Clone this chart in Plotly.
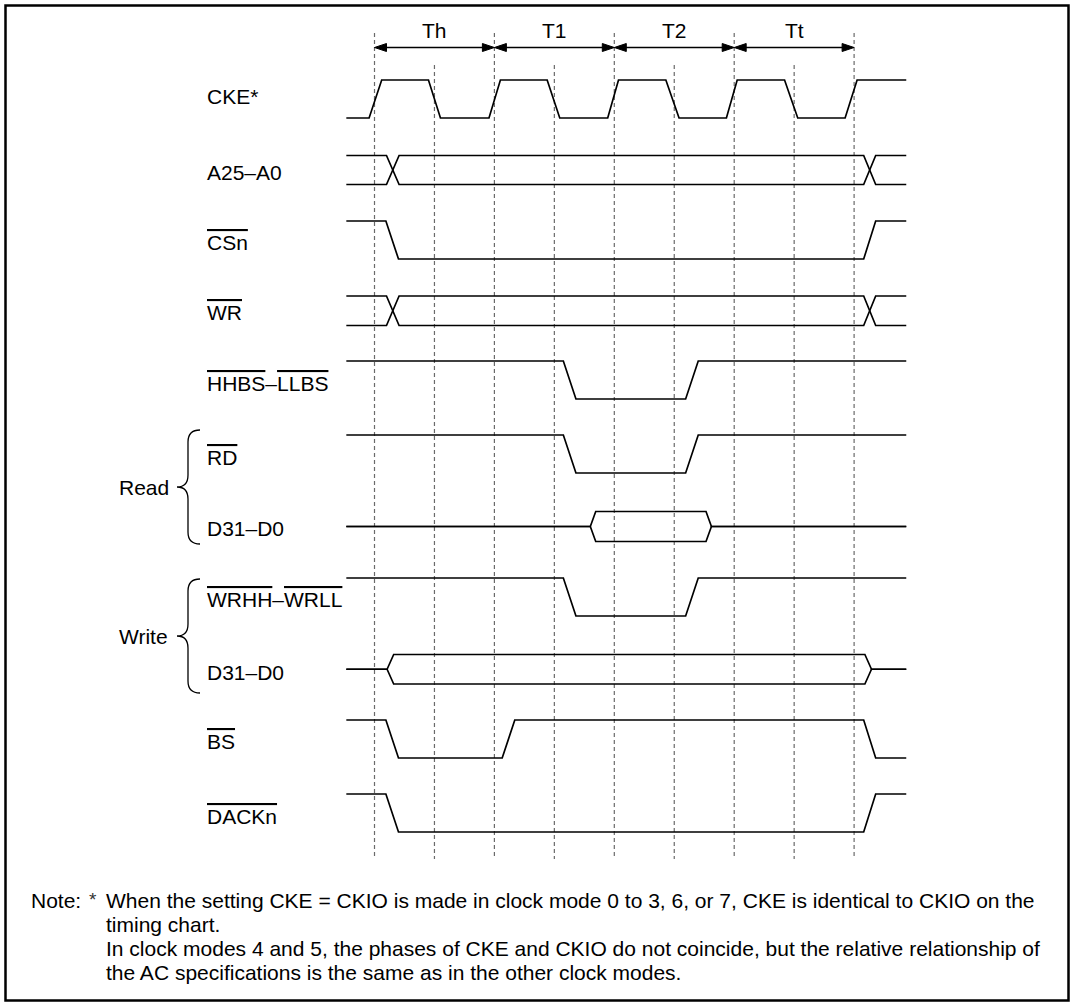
import plotly.graph_objects as go

W, H = 1075, 1006
X0_PX = 374.5      # pixel of t = 0
UNIT_PX = 59.95    # pixels per half clock cycle

# ---------------- data ----------------
grid_t = [0, 1, 2, 3, 4, 5, 6, 7, 8]
period_names = ["Th", "T1", "T2", "Tt"]
period_start = [0, 2, 4, 6]
period_end = [2, 4, 6, 8]

T_START, T_END = -0.47, 8.87

cke_t = [T_START, -0.09, 0.12, 0.90, 1.10, 1.91, 2.10, 2.88, 3.09, 3.89, 4.07,
         4.86, 5.08, 5.87, 6.05, 6.84, 7.06, 7.85, 8.05, T_END]
cke_v = [0, 0, 1, 1, 0, 0, 1, 1, 0, 0, 1, 1, 0, 0, 1, 1, 0, 0, 1, 1]

addr_t = [T_START, 0.20, 0.41, 8.16, 8.36, T_END]
addr_a = [1, 1, 0, 0, 1, 1]
addr_b = [0, 0, 1, 1, 0, 0]

csn_t = [T_START, 0.19, 0.40, 8.16, 8.36, T_END]
csn_v = [1, 1, 0, 0, 1, 1]

wr_t = [T_START, 0.20, 0.41, 8.16, 8.36, T_END]
wr_a = [1, 1, 0, 0, 1, 1]
wr_b = [0, 0, 1, 1, 0, 0]

strobe_t = [T_START, 3.15, 3.36, 5.19, 5.40, T_END]
strobe_v = [1, 1, 0, 0, 1, 1]

dread_t = [T_START, 3.60, 3.69, 5.53, 5.62, T_END]
dread_a = [0.5, 0.5, 1, 1, 0.5, 0.5]
dread_b = [0.5, 0.5, 0, 0, 0.5, 0.5]

dwrite_t = [T_START, 0.21, 0.32, 8.18, 8.29, T_END]
dwrite_a = [0.5, 0.5, 1, 1, 0.5, 0.5]
dwrite_b = [0.5, 0.5, 0, 0, 0.5, 0.5]

bs_t = [T_START, 0.19, 0.40, 2.13, 2.34, 8.16, 8.36, T_END]
bs_v = [1, 1, 0, 0, 1, 1, 0, 0]

dack_t = [T_START, 0.19, 0.40, 8.16, 8.36, T_END]
dack_v = [1, 1, 0, 0, 1, 1]

OL = '<span style="text-decoration:overline">%s</span>'
signal_labels = ["CKE*", "A25–A0", OL % "CSn", OL % "WR",
                 OL % "HHBS" + "–" + OL % "LLBS", OL % "RD", "D31–D0",
                 OL % "WRHH" + "–" + OL % "WRLL", "D31–D0", OL % "BS", OL % "DACKn"]

note_lines = [
    "When the setting CKE = CKIO is made in clock mode 0 to 3, 6, or 7, CKE is identical to CKIO on the",
    "timing chart.",
    "In clock modes 4 and 5, the phases of CKE and CKIO do not coincide, but the relative relationship of",
    "the AC specifications is the same as in the other clock modes.",
]

# ---------------- layout (pixel rows) ----------------
# (y of high level, y of low level) for each row
rows = [(80, 118), (155.5, 184.5), (221, 259), (296, 325.5), (361, 399),
        (435, 473), (511.5, 541.5), (578, 616), (654.5, 684), (720, 758), (794, 832)]
label_dy = [-3, 2, 2, 2, 3, 3, 2, 2, 3, 2, 3]

waves = [
    [(cke_t, cke_v)],
    [(addr_t, addr_a), (addr_t, addr_b)],
    [(csn_t, csn_v)],
    [(wr_t, wr_a), (wr_t, wr_b)],
    [(strobe_t, strobe_v)],
    [(strobe_t, strobe_v)],
    [(dread_t, dread_a), (dread_t, dread_b)],
    [(strobe_t, strobe_v)],
    [(dwrite_t, dwrite_a), (dwrite_t, dwrite_b)],
    [(bs_t, bs_v)],
    [(dack_t, dack_v)],
]

FONT = "Liberation Sans, Arial, Helvetica, sans-serif"
FS = 21


def px_to_t(px):
    return (px - X0_PX) / UNIT_PX


def px_paper(x, y):
    return x / W, 1 - y / H


fig = go.Figure()

# dashed clock grid
for t in grid_t:
    top = 33 if t % 2 == 0 else 65
    fig.add_trace(go.Scatter(x=[t, t], y=[top, 859], mode="lines",
                             line=dict(color="#6a6a6a", width=1.2, dash="4px,3px"),
                             hoverinfo="skip", showlegend=False))

# waveforms
for (yh, yl), wl in zip(rows, waves):
    for tt, vv in wl:
        ys = [yl - v * (yl - yh) for v in vv]
        fig.add_trace(go.Scatter(x=tt, y=ys, mode="lines",
                                 line=dict(color="black", width=1.7),
                                 hoverinfo="skip", showlegend=False))

# period arrows
ARROW_Y = 47.5
HEAD_L = 12 / UNIT_PX
HEAD_W = 4
for name, a, b in zip(period_names, period_start, period_end):
    fig.add_trace(go.Scatter(x=[a + HEAD_L * 0.5, b - HEAD_L * 0.5], y=[ARROW_Y, ARROW_Y],
                             mode="lines", line=dict(color="black", width=1.5),
                             hoverinfo="skip", showlegend=False))
    for tip, d in ((a, 1), (b, -1)):
        fig.add_trace(go.Scatter(x=[tip, tip + d * HEAD_L, tip + d * HEAD_L, tip],
                                 y=[ARROW_Y, ARROW_Y - HEAD_W, ARROW_Y + HEAD_W, ARROW_Y],
                                 mode="lines", fill="toself", fillcolor="black",
                                 line=dict(color="black", width=1),
                                 hoverinfo="skip", showlegend=False))
    fig.add_annotation(x=(a + b) / 2, y=30, text=name, showarrow=False,
                       xanchor="center", yanchor="middle",
                       font=dict(family=FONT, size=FS, color="black"))

# signal labels
for lab, (yh, yl), dy in zip(signal_labels, rows, label_dy):
    fig.add_annotation(x=px_to_t(205), y=(yh + yl) / 2 + dy, text=lab, showarrow=False,
                       xanchor="left", yanchor="middle",
                       font=dict(family=FONT, size=FS, color="black"))

# Read / Write braces
shapes = []
for word, top, bot in (("Read", 430, 544), ("Write", 579, 693)):
    mid = (top + bot) / 2
    pts = [("M", 200, top), ("Q", 188, top, 188, top + 12), ("L", 188, mid - 12),
           ("Q", 188, mid, 177, mid), ("Q", 188, mid, 188, mid + 12),
           ("L", 188, bot - 12), ("Q", 188, bot, 200, bot)]
    path = ""
    for p in pts:
        cmd = p[0]
        coords = p[1:]
        s = []
        for i in range(0, len(coords), 2):
            xp, yp = px_paper(coords[i], coords[i + 1])
            s.append("%.5f,%.5f" % (xp, yp))
        path += cmd + " ".join(s) + " "
    shapes.append(dict(type="path", path=path, xref="paper", yref="paper",
                       line=dict(color="black", width=1.3)))
    fig.add_annotation(x=px_to_t(117), y=mid, text=word, showarrow=False,
                       xanchor="left", yanchor="middle",
                       font=dict(family=FONT, size=FS, color="black"))

# frame
shapes.append(dict(type="rect", xref="paper", yref="paper",
                   x0=5.5 / W, x1=1 - 6.5 / W, y0=1 - 1000.5 / H, y1=1 - 5.5 / H,
                   line=dict(color="black", width=2.5)))

# note
note_y = [900, 924, 948, 972]
fig.add_annotation(x=px_to_t(29), y=note_y[0], text="Note:", showarrow=False,
                   xanchor="left", yanchor="middle",
                   font=dict(family=FONT, size=FS, color="black"))
fig.add_annotation(x=px_to_t(87), y=note_y[0] - 1, text="*", showarrow=False,
                   xanchor="left", yanchor="middle",
                   font=dict(family=FONT, size=FS - 2, color="#333333"))
for line, y in zip(note_lines, note_y):
    fig.add_annotation(x=px_to_t(104), y=y, text=line, showarrow=False,
                       xanchor="left", yanchor="middle",
                       font=dict(family=FONT, size=FS, color="black"))

fig.update_layout(
    width=W, height=H, autosize=False,
    margin=dict(l=0, r=0, t=0, b=0),
    paper_bgcolor="white", plot_bgcolor="white",
    showlegend=False, shapes=shapes,
    xaxis=dict(range=[px_to_t(0), px_to_t(W)], visible=False, fixedrange=True),
    yaxis=dict(range=[H, 0], visible=False, fixedrange=True),
)

fig.write_html("out.html", config={"displayModeBar": False, "staticPlot": True},
               post_script="document.body.style.margin='0';document.body.style.overflow='hidden';")
